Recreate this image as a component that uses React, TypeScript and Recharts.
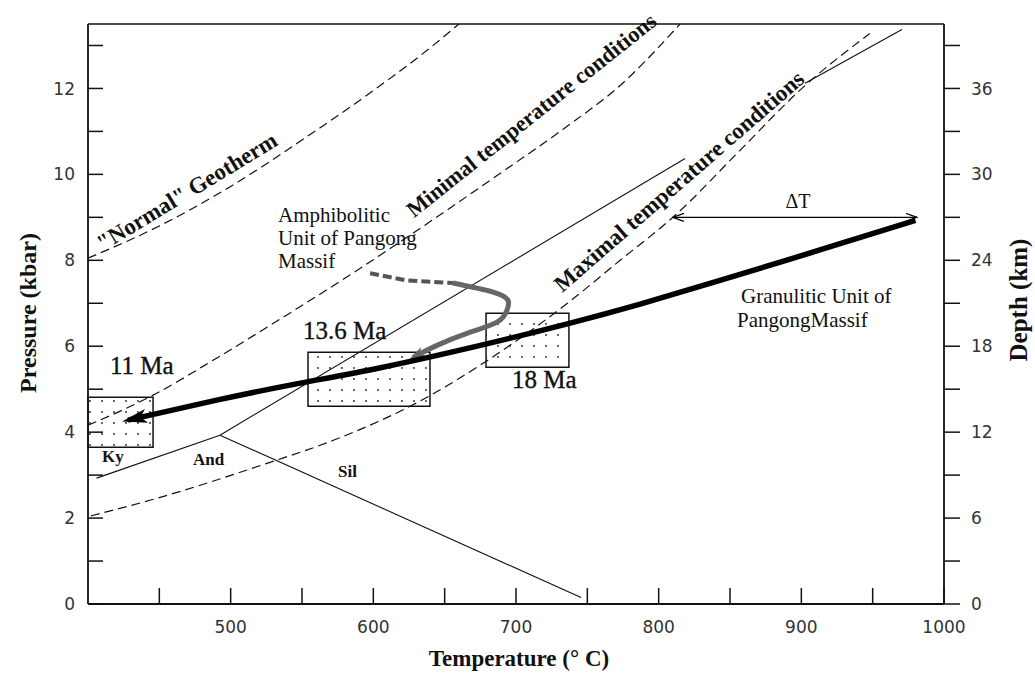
import { ComposedChart, Line, XAxis, YAxis, ReferenceArea, ReferenceLine } from 'recharts'

// axis ticks
const TEMP_TICKS = [450, 500, 550, 600, 650, 700, 750, 800, 850, 900, 950, 1000]
const TEMP_LABELS = [500, 600, 700, 800, 900, 1000]
const P_TICKS = [0, 1, 2, 3, 4, 5, 6, 7, 8, 9, 10, 11, 12, 13]
const P_LABELS = [0, 2, 4, 6, 8, 10, 12]
const DEPTH_TICKS = [0, 3, 6, 9, 12, 15, 18, 21, 24, 27, 30, 33, 36, 39]
const DEPTH_LABELS = [0, 6, 12, 18, 24, 30, 36]

// "Normal" geotherm
const NORMAL_T = [400, 450, 500, 550, 600, 640, 660]
const NORMAL_P = [8.05, 8.8, 9.72, 10.8, 11.95, 12.95, 13.5]

// minimal temperature conditions
const MIN_T = [400, 445, 491, 538, 580, 642, 687, 733, 773, 815]
const MIN_P = [4.16, 4.85, 5.74, 6.7, 7.58, 8.95, 9.98, 11.05, 12.07, 13.5]

// maximal temperature conditions
const MAX_T = [402, 444, 526, 572, 637, 680, 736, 773, 813, 855, 901, 948]
const MAX_P = [2.05, 2.42, 3.28, 3.81, 4.8, 5.67, 7.0, 8.0, 9.09, 10.49, 12.02, 13.28]

// aluminosilicate reactions
const KY_AND_T = [406, 492.5]
const KY_AND_P = [2.93, 3.93]
const KY_SIL_T = [492.5, 818.5]
const KY_SIL_P = [3.93, 10.37]
const KY_SIL2_T = [902.6, 970.5]
const KY_SIL2_P = [12.12, 13.37]
const AND_SIL_T = [492.5, 745.6]
const AND_SIL_P = [3.93, 0.15]

// granulitic unit path (thick black)
const GRAN_T = [980, 913, 843, 787, 736, 675, 605, 547, 491, 428]
const GRAN_P = [8.93, 8.24, 7.53, 6.98, 6.52, 6.02, 5.5, 5.13, 4.75, 4.28]

// amphibolitic unit path (grey)
const AMPH_DASH_T = [597.7, 623.6, 655.8]
const AMPH_DASH_P = [7.7, 7.53, 7.47]
const AMPH_T = [655.8, 683.9, 694.4, 693.7, 686.7, 665.6, 644.6, 627.8]
const AMPH_P = [7.47, 7.26, 7.07, 6.84, 6.56, 6.3, 6.02, 5.74]

// delta T arrow
const DT_T = [810, 981]
const DT_P = [9.0, 9.0]

// age boxes
const BOX_LABELS = ['11 Ma', '13.6 Ma', '18 Ma']
const BOX_T_MIN = [400, 554.2, 679]
const BOX_T_MAX = [445.6, 639.7, 737.1]
const BOX_P_MIN = [3.65, 4.6, 5.51]
const BOX_P_MAX = [4.81, 5.86, 6.77]

const zip = (t: number[], p: number[]) => t.map((v, i) => ({ t: v, p: p[i] }))

const SANS = "'DejaVu Sans', sans-serif"
const SERIF = "'Liberation Serif', serif"
const INK = '#111'

function LeftTick({ x, y, payload }: any) {
  const v = payload.value
  return (
    <g>
      <line x1={x} x2={x + 15} y1={y} y2={y} stroke={INK} strokeWidth={1.5} />
      {P_LABELS.includes(v) && (
        <text x={x - 13} y={y} dy="0.36em" textAnchor="end" fontFamily={SANS} fontSize={17} fill="#333">
          {v}
        </text>
      )}
    </g>
  )
}

function RightTick({ x, y, payload }: any) {
  const v = payload.value
  return (
    <g>
      <line x1={x} x2={x + 16} y1={y} y2={y} stroke={INK} strokeWidth={1.5} />
      {DEPTH_LABELS.includes(v) && (
        <text x={x + 27} y={y} dy="0.36em" textAnchor="start" fontFamily={SANS} fontSize={17} fill="#333">
          {v}
        </text>
      )}
    </g>
  )
}

function BottomTick({ x, y, payload }: any) {
  const v = payload.value
  return (
    <g>
      <line x1={x} x2={x} y1={y} y2={y - 16} stroke={INK} strokeWidth={1.5} />
      {TEMP_LABELS.includes(v) && (
        <text x={x} y={y + 29} textAnchor="middle" fontFamily={SANS} fontSize={17} fill="#333">
          {v}
        </text>
      )}
    </g>
  )
}

const lineBase = {
  dataKey: 'p',
  dot: false,
  activeDot: false,
  isAnimationActive: false,
  legendType: 'none' as const,
}

export default function App() {
  return (
    <div style={{ position: 'absolute', left: 0, top: 0, width: 1035, height: 674, background: '#fff' }}>
      <ComposedChart width={1035} height={674} margin={{ top: 24, right: 31, bottom: 30, left: 28 }}>
        <defs>
          <pattern id="dots" patternUnits="userSpaceOnUse" width={12} height={11}>
            <circle cx={6} cy={5} r={0.9} fill="#222" />
          </pattern>
          <marker id="headBlack" markerUnits="userSpaceOnUse" viewBox="0 0 26 16" markerWidth={26} markerHeight={16} refX={19} refY={8} orient="auto">
            <path d="M0,1 L25,8 L0,15 L6,8 Z" fill="#000" />
          </marker>
          <marker id="headGrey" markerUnits="userSpaceOnUse" viewBox="0 0 16 12" markerWidth={16} markerHeight={12} refX={12} refY={6} orient="auto">
            <path d="M0,0.5 L16,6 L0,11.5 L4,6 Z" fill="#666" />
          </marker>
          <marker id="headOpen" markerUnits="userSpaceOnUse" viewBox="0 0 12 10" markerWidth={12} markerHeight={10} refX={11} refY={5} orient="auto-start-reverse">
            <path d="M0,1 L11,5 L0,9" fill="none" stroke="#000" strokeWidth={1.2} />
          </marker>
        </defs>

        <XAxis
          type="number"
          dataKey="t"
          domain={[400, 1000]}
          ticks={TEMP_TICKS}
          interval={0}
          allowDataOverflow
          height={40}
          tickSize={0}
          tickMargin={0}
          tickLine={false}
          axisLine={{ stroke: INK, strokeWidth: 1.8 }}
          tick={(p: any) => <BottomTick {...p} />}
        />
        <YAxis
          type="number"
          domain={[0, 13.5]}
          ticks={P_TICKS}
          interval={0}
          allowDataOverflow
          width={60}
          tickSize={0}
          tickMargin={0}
          tickLine={false}
          axisLine={{ stroke: INK, strokeWidth: 1.8 }}
          tick={(p: any) => <LeftTick {...p} />}
        />
        <YAxis
          yAxisId="depth"
          orientation="right"
          type="number"
          domain={[0, 40.5]}
          ticks={DEPTH_TICKS}
          interval={0}
          allowDataOverflow
          width={60}
          tickSize={0}
          tickMargin={0}
          tickLine={false}
          axisLine={{ stroke: INK, strokeWidth: 1.8 }}
          tick={(p: any) => <RightTick {...p} />}
        />
        <ReferenceLine y={13.5} stroke={INK} strokeWidth={1.5} />

        {BOX_LABELS.map((name, i) => (
          <ReferenceArea
            key={name}
            x1={BOX_T_MIN[i]}
            x2={BOX_T_MAX[i]}
            y1={BOX_P_MIN[i]}
            y2={BOX_P_MAX[i]}
            fill="url(#dots)"
            fillOpacity={1}
            stroke={INK}
            strokeWidth={1.5}
          />
        ))}

        <Line {...lineBase} data={zip(NORMAL_T, NORMAL_P)} type="monotone" stroke={INK} strokeWidth={1.2} strokeDasharray="9 5" />
        <Line {...lineBase} data={zip(MIN_T, MIN_P)} type="monotone" stroke={INK} strokeWidth={1.2} strokeDasharray="9 5" />
        <Line {...lineBase} data={zip(MAX_T, MAX_P)} type="monotone" stroke={INK} strokeWidth={1.2} strokeDasharray="9 5" />
        <Line {...lineBase} data={zip(KY_AND_T, KY_AND_P)} type="linear" stroke={INK} strokeWidth={1.1} />
        <Line {...lineBase} data={zip(KY_SIL_T, KY_SIL_P)} type="linear" stroke={INK} strokeWidth={1.1} />
        <Line {...lineBase} data={zip(KY_SIL2_T, KY_SIL2_P)} type="linear" stroke={INK} strokeWidth={1.1} />
        <Line {...lineBase} data={zip(AND_SIL_T, AND_SIL_P)} type="linear" stroke={INK} strokeWidth={1.1} />

        <Line {...lineBase} data={zip(AMPH_DASH_T, AMPH_DASH_P)} type="linear" stroke="#555" strokeWidth={4} strokeDasharray="9 4" />
        <Line {...lineBase} data={zip(AMPH_T, AMPH_P)} type="natural" stroke="#666" strokeWidth={5} markerEnd="url(#headGrey)" />
        <Line {...lineBase} data={zip(GRAN_T, GRAN_P)} type="natural" stroke="#000" strokeWidth={5.5} markerEnd="url(#headBlack)" />
        <Line {...lineBase} data={zip(DT_T, DT_P)} type="linear" stroke="#000" strokeWidth={1.2} markerStart="url(#headOpen)" markerEnd="url(#headOpen)" />

        {/* annotations */}
        <g fontFamily={SERIF} fill={INK}>
          <g stroke={INK} strokeWidth={0.35}>
            <text x={110} y={374} fontSize={25}>11 Ma</text>
            <text x={303} y={339} fontSize={25}>13.6 Ma</text>
            <text x={512} y={388} fontSize={25}>18 Ma</text>
          </g>
          <text x={102} y={462} fontSize={17} fontWeight={700}>Ky</text>
          <text x={193} y={465} fontSize={17} fontWeight={700}>And</text>
          <text x={338} y={477} fontSize={17} fontWeight={700}>Sil</text>
          <text x={798} y={208} fontSize={20} textAnchor="middle">ΔT</text>
          <text x={741} y={303} fontSize={21}>Granulitic Unit of</text>
          <text x={737} y={327} fontSize={21}>PangongMassif</text>
          <text x={278} y={222} fontSize={21}>Amphibolitic</text>
          <text x={278} y={245} fontSize={21}>Unit of Pangong</text>
          <text x={278} y={268} fontSize={21}>Massif</text>
          <text x={191} y={198} fontSize={23} fontWeight={700} textAnchor="middle" transform="rotate(-31.2 191 198)">
            "Normal" Geotherm
          </text>
          <text x={536} y={121} fontSize={22.5} fontWeight={700} textAnchor="middle" transform="rotate(-38.5 536 121)">
            Minimal temperature conditions
          </text>
          <text x={684} y={187} fontSize={23} fontWeight={700} textAnchor="middle" transform="rotate(-41 684 187)">
            Maximal temperature conditions
          </text>
          <text x={519} y={666} fontSize={23} fontWeight={700} textAnchor="middle">
            Temperature (° C)
          </text>
          <text x={36} y={313} fontSize={24} fontWeight={700} textAnchor="middle" transform="rotate(-90 36 313)">
            Pressure (kbar)
          </text>
          <text x={1027} y={300} fontSize={25} fontWeight={700} textAnchor="middle" transform="rotate(-90 1027 300)">
            Depth (km)
          </text>
        </g>
      </ComposedChart>
    </div>
  )
}
